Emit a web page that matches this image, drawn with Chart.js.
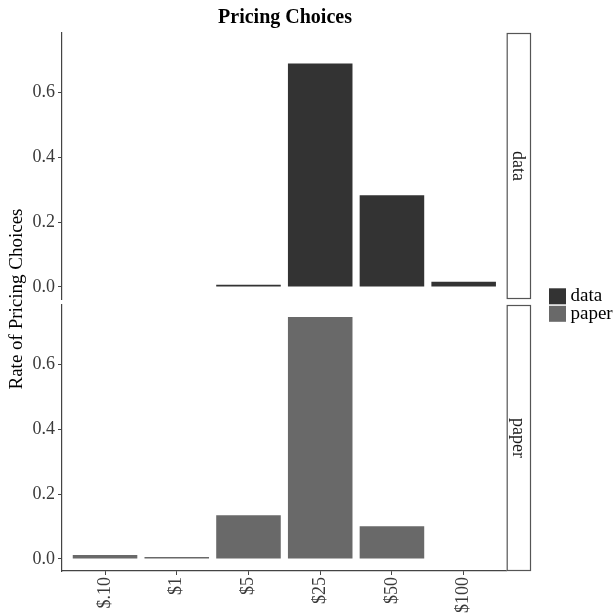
<!DOCTYPE html>
<html>
<head>
<meta charset="utf-8">
<title>Pricing Choices</title>
<script src="https://cdn.jsdelivr.net/npm/chart.js@4.4.1/dist/chart.umd.min.js"></script>
<style>
  html, body { margin: 0; padding: 0; background: #ffffff; }
  #wrap { position: relative; width: 613px; height: 615px; }
  #wrap canvas { position: absolute; left: 0; top: 0; }
</style>
</head>
<body>
<div id="wrap">
  <canvas id="panelData" width="613" height="615"></canvas>
  <canvas id="panelPaper" width="613" height="615"></canvas>
</div>
<script>
// Price options offered and share of choices for each condition
const categories = ['$.10', '$1', '$5', '$25', '$50', '$100'];
const dataRates  = [0.000, 0.000, 0.007, 0.689, 0.283, 0.016];
const paperRates = [0.012, 0.006, 0.135, 0.746, 0.101, 0.000];
const seriesNames = ['data', 'paper'];
const seriesColors = ['#333333', '#696969'];
const yTicks = [0.0, 0.2, 0.4, 0.6];
const chartTitle = 'Pricing Choices';
const yTitle = 'Rate of Pricing Choices';

const FONT = '"Liberation Serif", "Times New Roman", serif';
const AXIS_COLOR = '#444444';
const TEXT_COLOR = '#3a3a3a';
const Y_MIN = -0.0373, Y_MAX = 0.783;
const X_MIN = 0.4, X_MAX = categories.length + 0.6;

const toPoints = arr => arr.map((v, i) => ({ x: i + 1, y: v }));

// strip label box to the right of a panel
function stripPlugin(label) {
  return {
    id: 'strip',
    afterDraw(chart) {
      const { ctx, chartArea: a } = chart;
      const w = 24.3;
      ctx.save();
      ctx.fillStyle = '#ffffff';
      ctx.strokeStyle = '#555555';
      ctx.lineWidth = 1.2;
      ctx.fillRect(a.right, a.top, w, a.bottom - a.top);
      ctx.strokeRect(a.right + 0.5, a.top + 0.5, w - 1, a.bottom - a.top - 1);
      ctx.translate(a.right + w / 2, (a.top + a.bottom) / 2);
      ctx.rotate(Math.PI / 2);
      ctx.fillStyle = '#1a1a1a';
      ctx.font = '18px ' + FONT;
      ctx.textAlign = 'center';
      ctx.textBaseline = 'middle';
      ctx.fillText(label, 0, 1);
      ctx.restore();
    }
  };
}

// title, shared y-axis title and the fill legend
const decorPlugin = {
  id: 'decor',
  afterDraw(chart) {
    const { ctx } = chart;
    ctx.save();
    ctx.fillStyle = '#000000';
    ctx.font = 'bold 20px ' + FONT;
    ctx.textAlign = 'center';
    ctx.textBaseline = 'middle';
    ctx.fillText(chartTitle, 285, 18);

    ctx.save();
    ctx.translate(17, 299);
    ctx.rotate(-Math.PI / 2);
    ctx.font = '19px ' + FONT;
    ctx.fillStyle = '#000000';
    ctx.fillText(yTitle, 0, 0);
    ctx.restore();

    seriesNames.forEach((name, i) => {
      const y = 288.3 + i * 17.5;
      ctx.fillStyle = seriesColors[i];
      ctx.fillRect(549, y, 17, 16);
      ctx.fillStyle = '#000000';
      ctx.font = '19px ' + FONT;
      ctx.textAlign = 'left';
      ctx.textBaseline = 'middle';
      ctx.fillText(name, 570.5, y + 8);
    });
    ctx.restore();
  }
};

function yScale() {
  return {
    type: 'linear',
    min: Y_MIN,
    max: Y_MAX,
    afterBuildTicks: s => { s.ticks = yTicks.map(v => ({ value: v })); },
    afterFit: s => { s.width = 62; },
    ticks: {
      color: TEXT_COLOR,
      font: { family: FONT, size: 18 },
      padding: 3,
      callback: v => Number(v).toFixed(1)
    },
    grid: { drawOnChartArea: false, drawTicks: true, tickLength: 4, color: AXIS_COLOR, lineWidth: 1 },
    border: { display: true, color: AXIS_COLOR, width: 1.2 }
  };
}

function xScale(show) {
  return {
    type: 'linear',
    min: X_MIN,
    max: X_MAX,
    offset: false,
    display: show,
    afterBuildTicks: s => { s.ticks = categories.map((c, i) => ({ value: i + 1 })); },
    afterFit: s => { if (show) s.height = 44; },
    ticks: {
      autoSkip: false,
      minRotation: 90,
      maxRotation: 90,
      color: TEXT_COLOR,
      font: { family: FONT, size: 18 },
      padding: 2,
      callback: v => categories[Math.round(v) - 1]
    },
    grid: { offset: false, drawOnChartArea: false, drawTicks: true, tickLength: 4, color: AXIS_COLOR, lineWidth: 1 },
    border: { display: true, color: AXIS_COLOR, width: 1.2 }
  };
}

function makePanel(canvasId, idx, values, padTop, padBottom, showX) {
  return new Chart(document.getElementById(canvasId), {
    type: 'bar',
    data: {
      datasets: [{
        label: seriesNames[idx],
        data: toPoints(values),
        backgroundColor: seriesColors[idx],
        borderWidth: 0,
        barPercentage: 0.9,
        categoryPercentage: 1.0
      }]
    },
    options: {
      responsive: false,
      animation: false,
      devicePixelRatio: 1,
      layout: { padding: { left: 0, right: 106.3, top: padTop, bottom: padBottom } },
      plugins: { legend: { display: false }, title: { display: false }, tooltip: { enabled: false } },
      scales: { x: xScale(showX), y: yScale() }
    },
    plugins: idx === 0 ? [stripPlugin(seriesNames[idx]), decorPlugin] : [stripPlugin(seriesNames[idx])]
  });
}

makePanel('panelData', 0, dataRates, 33, 316, false);
makePanel('panelPaper', 1, paperRates, 305, 0, true);
</script>
</body>
</html>
